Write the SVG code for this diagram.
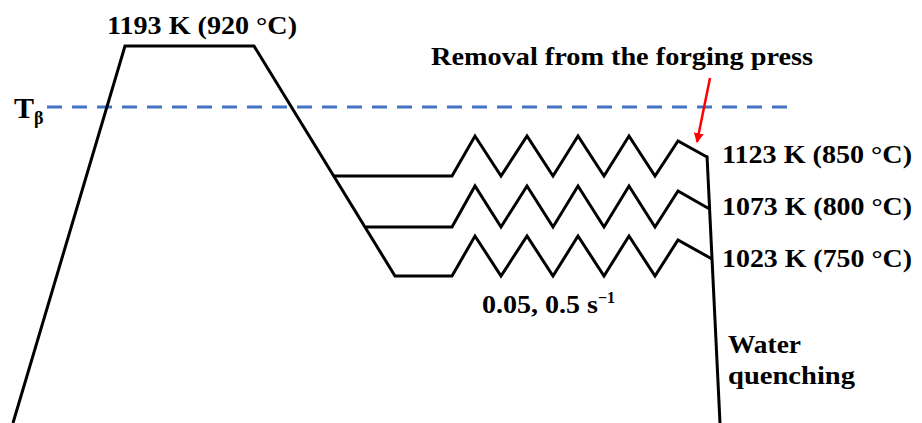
<svg xmlns="http://www.w3.org/2000/svg" width="922" height="423" viewBox="0 0 922 423">
<style>
.ln{fill:none;stroke:#000;stroke-width:3;stroke-linejoin:miter;stroke-linecap:butt}
.t{font-family:"Liberation Serif","Times New Roman",serif;font-weight:bold;fill:#000}
</style>
<defs>
<marker id="ah" markerWidth="10" markerHeight="10" refX="9" refY="5" orient="auto" markerUnits="userSpaceOnUse">
<path d="M0,0 L10,5 L0,10 Z" fill="#ff0000"/>
</marker>
</defs>
<rect width="922" height="423" fill="#fff"/>
<line x1="47" y1="107" x2="797" y2="107" stroke="#4472C4" stroke-width="3" stroke-dasharray="15,10"/>
<g id="curves">
<polyline class="ln" points="13,423 125,46 254,46 395,276 452,276 475,236 501,276 527,236 553,276 578,236 604,276 629,236 655,276 678,240 712,259"/>
<polyline class="ln" points="334,176 452,176 475,136 501,176 527,136 553,176 578,136 604,176 629,136 655,176 678,141 707,157"/>
<polyline class="ln" points="366,227 452,227 475,186 501,227 527,186 553,227 578,186 604,227 629,186 655,227 678,191 709.5,209"/>
<line class="ln" x1="707" y1="155.5" x2="720" y2="423"/>
</g>
<g id="arrow">
<line x1="710" y1="78" x2="697" y2="142" stroke="#ff0000" stroke-width="2.5" marker-end="url(#ah)"/>
</g>
<g id="labels">
<text class="t" x="107" y="34" font-size="26" textLength="190" lengthAdjust="spacingAndGlyphs">1193 K (920 °C)</text>
<text class="t" x="431" y="65" font-size="26" textLength="382" lengthAdjust="spacingAndGlyphs">Removal from the forging press</text>
<text class="t" x="722" y="163" font-size="26" textLength="190" lengthAdjust="spacingAndGlyphs">1123 K (850 °C)</text>
<text class="t" x="722" y="215" font-size="26" textLength="190" lengthAdjust="spacingAndGlyphs">1073 K (800 °C)</text>
<text class="t" x="722" y="267" font-size="26" textLength="190" lengthAdjust="spacingAndGlyphs">1023 K (750 °C)</text>
<text class="t" x="482" y="313" font-size="26"><tspan textLength="116" lengthAdjust="spacingAndGlyphs">0.05, 0.5 s</tspan><tspan font-size="16" dy="-10">−1</tspan></text>
<text class="t" x="728" y="353" font-size="26" textLength="73" lengthAdjust="spacingAndGlyphs">Water</text>
<text class="t" x="728" y="384" font-size="26" textLength="127" lengthAdjust="spacingAndGlyphs">quenching</text>
<text class="t" x="14" y="118" font-size="30">T<tspan font-size="18" dy="6">β</tspan></text>
</g>
</svg>
